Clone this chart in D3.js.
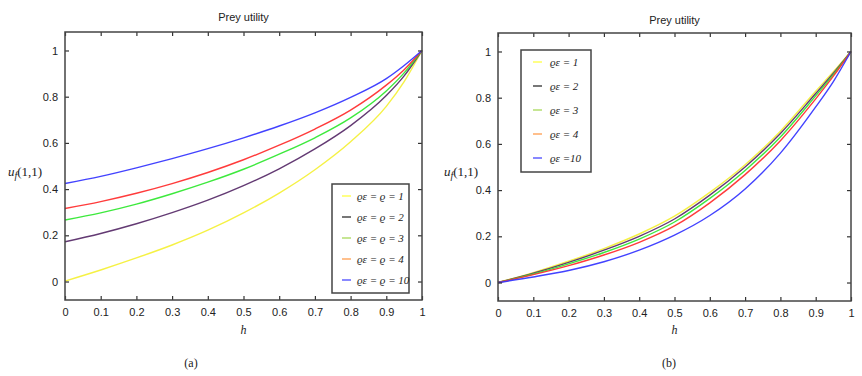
<!DOCTYPE html>
<html><head><meta charset="utf-8">
<script src="https://cdn.jsdelivr.net/npm/d3@7"></script>
<style>
body{margin:0;background:#fff;}
svg{display:block;}
.tick text{font-family:"Liberation Sans Narrow","Liberation Sans",Arial,sans-serif;font-stretch:condensed;font-size:11px;fill:#222;}
</style></head><body>
<svg id="c" width="862" height="376"></svg>
<script>
// ---- data ----
const hValues = [0, 0.1, 0.2, 0.3, 0.4, 0.5, 0.6, 0.7, 0.8, 0.9, 0.95, 1];
const xTicks = [0, 0.1, 0.2, 0.3, 0.4, 0.5, 0.6, 0.7, 0.8, 0.9, 1];
const yTicks = [0, 0.2, 0.4, 0.6, 0.8, 1];

// panel (a)
const aRho1  = [0.002, 0.050, 0.102, 0.158, 0.222, 0.297, 0.383, 0.484, 0.605, 0.758, 0.865, 1];
const aRho2  = [0.172, 0.208, 0.250, 0.298, 0.352, 0.415, 0.488, 0.574, 0.675, 0.805, 0.890, 1];
const aRho3  = [0.266, 0.297, 0.335, 0.380, 0.430, 0.486, 0.551, 0.622, 0.708, 0.825, 0.903, 1];
const aRho4  = [0.316, 0.346, 0.382, 0.424, 0.472, 0.527, 0.590, 0.660, 0.742, 0.850, 0.917, 1];
const aRho10 = [0.424, 0.455, 0.492, 0.532, 0.575, 0.622, 0.673, 0.730, 0.797, 0.878, 0.935, 1];

// panel (b)
const bRho1  = [0, 0.043, 0.092, 0.147, 0.210, 0.287, 0.390, 0.510, 0.655, 0.828, 0.912, 1];
const bRho2  = [0, 0.040, 0.087, 0.140, 0.200, 0.275, 0.378, 0.500, 0.645, 0.818, 0.906, 1];
const bRho3  = [0, 0.037, 0.081, 0.130, 0.188, 0.262, 0.364, 0.485, 0.630, 0.808, 0.900, 1];
const bRho4  = [0, 0.034, 0.073, 0.119, 0.174, 0.245, 0.345, 0.467, 0.614, 0.795, 0.893, 1];
const bRho10 = [0, 0.024, 0.052, 0.090, 0.140, 0.205, 0.290, 0.405, 0.560, 0.760, 0.870, 1];

const lineColors   = ["#f4f03a", "#5b2f6b", "#33e833", "#ff3030", "#3838ff"];
const legendColors = ["#ffff66", "#555555", "#b8e07a", "#ffb070", "#6b6bff"];
const legendA = ["ϱε = ϱ = 1", "ϱε = ϱ = 2", "ϱε = ϱ = 3", "ϱε = ϱ = 4", "ϱε = ϱ = 10"];
const legendB = ["ϱε = 1", "ϱε = 2", "ϱε = 3", "ϱε = 4", "ϱε =10"];

const svg = d3.select("#c");

function panel(cfg){
  const x = d3.scaleLinear().domain([0,1]).range([cfg.x0, cfg.x1]);
  const y = d3.scaleLinear().domain([-0.08, 1.08]).range([cfg.y1, cfg.y0]);
  const g = svg.append("g");
  // series
  const line = d3.line().x((d,i)=>x(hValues[i])).y(d=>y(d)).curve(d3.curveMonotoneX);
  cfg.series.forEach((s,i)=>{
    g.append("path").datum(s).attr("d", line).attr("fill","none")
      .attr("stroke", lineColors[i]).attr("stroke-width", 1.4).attr("stroke-opacity",0.95);
  });
  // axes with inward ticks
  const tk = 4;
  const bottom = g.append("g").attr("transform",`translate(0,${cfg.y1})`)
    .call(d3.axisBottom(x).tickValues(xTicks).tickFormat(d3.format("")).tickSize(-tk).tickPadding(8));
  const top = g.append("g").attr("transform",`translate(0,${cfg.y0})`)
    .call(d3.axisTop(x).tickValues(xTicks).tickFormat("").tickSize(-tk));
  const left = g.append("g").attr("transform",`translate(${cfg.x0},0)`)
    .call(d3.axisLeft(y).tickValues(yTicks).tickFormat(d3.format("")).tickSize(-tk).tickPadding(7));
  const right = g.append("g").attr("transform",`translate(${cfg.x1},0)`)
    .call(d3.axisRight(y).tickValues(yTicks).tickFormat("").tickSize(-tk));
  [bottom,top,left,right].forEach(a=>{
    a.select(".domain").remove();
    a.selectAll(".tick line").attr("stroke","#333").attr("stroke-width",1.2);
  });
  g.append("rect").attr("x",cfg.x0).attr("y",cfg.y0).attr("width",cfg.x1-cfg.x0).attr("height",cfg.y1-cfg.y0)
    .attr("fill","none").attr("stroke","#444").attr("stroke-width",1.5);
  // title
  g.append("text").attr("x",(cfg.x0+cfg.x1)/2).attr("y",cfg.titleY).attr("text-anchor","middle")
    .attr("font-family","'Liberation Sans Narrow','Liberation Sans',Arial,sans-serif").attr("font-stretch","condensed")
    .attr("font-size",11).attr("fill","#222").text("Prey utility");
  // x label
  g.append("text").attr("x",(cfg.x0+cfg.x1)/2).attr("y",334).attr("text-anchor","middle")
    .attr("font-family","'Liberation Serif',serif").attr("font-style","italic").attr("font-size",12).attr("fill","#222").text("h");
  // y label
  const yl = g.append("text").attr("x",cfg.ylx).attr("y",176).attr("text-anchor","start")
    .attr("font-family","'Liberation Serif',serif").attr("font-size",13).attr("fill","#222");
  yl.append("tspan").attr("font-style","italic").text("u");
  yl.append("tspan").attr("font-style","italic").attr("font-size",10).attr("dy",3).text("f");
  yl.append("tspan").attr("dy",-3).text("(1,1)");
  // caption
  g.append("text").attr("x",cfg.capX).attr("y",367).attr("text-anchor","middle")
    .attr("font-family","'Liberation Serif',serif").attr("font-size",12).attr("fill","#222").text(cfg.caption);
  // legend
  const L = cfg.legend;
  g.append("rect").attr("x",L.x).attr("y",L.y).attr("width",L.w).attr("height",L.h)
    .attr("fill","#fff").attr("stroke","#444").attr("stroke-width",1.5);
  L.labels.forEach((t,i)=>{
    const cy = L.y + L.first + i*L.step;
    g.append("line").attr("x1",L.x+L.lx).attr("x2",L.x+L.lx+9).attr("y1",cy).attr("y2",cy)
      .attr("stroke",legendColors[i]).attr("stroke-width",1.6);
    g.append("text").attr("x",L.x+L.tx).attr("y",cy+4)
      .attr("font-family","'Liberation Serif',serif").attr("font-style","italic").attr("font-size",11)
      .attr("fill","#222").text(t);
  });
}

panel({x0:65,x1:422,y0:32,y1:300,titleY:21,ylx:8,capX:191,caption:"(a)",
  series:[aRho1,aRho2,aRho3,aRho4,aRho10],
  legend:{x:332,y:184,w:77,h:109,first:12,step:21,lx:10,tx:25,labels:legendA}});
panel({x0:498,x1:851,y0:33,y1:301,titleY:24,ylx:444,capX:669,caption:"(b)",
  series:[bRho1,bRho2,bRho3,bRho4,bRho10],
  legend:{x:521,y:50,w:70,h:122,first:12,step:24,lx:12,tx:29,labels:legendB}});
</script>
</body></html>
